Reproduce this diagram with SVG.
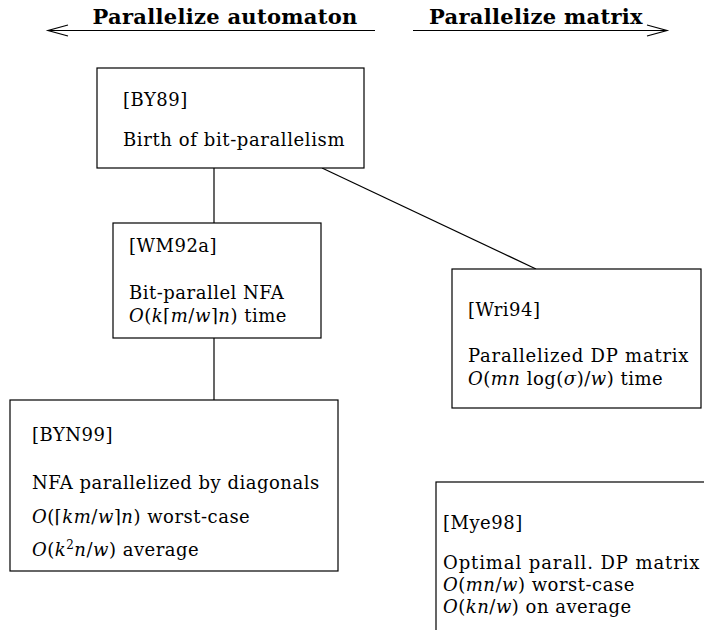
<svg xmlns="http://www.w3.org/2000/svg" width="704" height="630" viewBox="0 0 704 630">
<defs>
<style>
.box{fill:#fff;stroke:#000;stroke-width:1.2}
.ln{stroke:#000;stroke-width:1.2;fill:none}
text{font-family:"DejaVu Serif","Liberation Serif",serif;font-size:18px;letter-spacing:0.5px;fill:#000}
.hd{font-weight:bold;font-size:21px;letter-spacing:0.3px}
.i{font-style:italic}
</style>
</defs>
<rect width="704" height="630" fill="#fff"/>
<g id="header-left">
<line class="ln" x1="48" y1="30.5" x2="375" y2="30.5"/>
<polyline class="ln" points="68,25 48,30.5 68,36"/>
<text class="hd" x="225" y="24" text-anchor="middle">Parallelize automaton</text>
</g>
<g id="header-right">
<line class="ln" x1="413" y1="30.5" x2="667" y2="30.5"/>
<polyline class="ln" points="647,25 667,30.5 647,36"/>
<text class="hd" x="536" y="24" text-anchor="middle">Parallelize matrix</text>
</g>
<g id="connectors">
<line class="ln" x1="214" y1="168" x2="214" y2="223"/>
<line class="ln" x1="322" y1="168" x2="536" y2="269"/>
<line class="ln" x1="214" y1="338" x2="214" y2="400"/>
</g>
<g id="BY89">
<rect class="box" x="97" y="68" width="267" height="100"/>
<text x="123" y="106">[BY89]</text>
<text x="123" y="146" textLength="222">Birth of bit-parallelism</text>
</g>
<g id="WM92a">
<rect class="box" x="113" y="223" width="208" height="115"/>
<text x="129" y="252">[WM92a]</text>
<text x="129" y="299">Bit-parallel NFA</text>
<text x="129" y="322"><tspan class="i">O</tspan>(<tspan class="i">k</tspan>⌈<tspan class="i">m</tspan>/<tspan class="i">w</tspan>⌉<tspan class="i">n</tspan>) time</text>
</g>
<g id="Wri94">
<rect class="box" x="452" y="269" width="249" height="139"/>
<text x="468" y="316">[Wri94]</text>
<text x="468" y="362" textLength="221">Parallelized DP matrix</text>
<text x="468" y="385"><tspan class="i">O</tspan>(<tspan class="i">mn</tspan> log(<tspan class="i">σ</tspan>)/<tspan class="i">w</tspan>) time</text>
</g>
<g id="BYN99">
<rect class="box" x="10" y="400" width="328" height="171"/>
<text x="32" y="441">[BYN99]</text>
<text x="32" y="489">NFA parallelized by diagonals</text>
<text x="32" y="523"><tspan class="i">O</tspan>(⌈<tspan class="i">km</tspan>/<tspan class="i">w</tspan>⌉<tspan class="i">n</tspan>) worst-case</text>
<text x="32" y="556"><tspan class="i">O</tspan>(<tspan class="i">k</tspan><tspan font-size="12" dy="-7">2</tspan><tspan class="i" dy="7">n</tspan>/<tspan class="i">w</tspan>) average</text>
</g>
<g id="Mye98">
<rect class="box" x="436" y="482" width="300" height="200"/>
<text x="443" y="529">[Mye98]</text>
<text x="443" y="569" textLength="257">Optimal parall. DP matrix</text>
<text x="443" y="591"><tspan class="i">O</tspan>(<tspan class="i">mn</tspan>/<tspan class="i">w</tspan>) worst-case</text>
<text x="443" y="613"><tspan class="i">O</tspan>(<tspan class="i">kn</tspan>/<tspan class="i">w</tspan>) on average</text>
</g>
</svg>
